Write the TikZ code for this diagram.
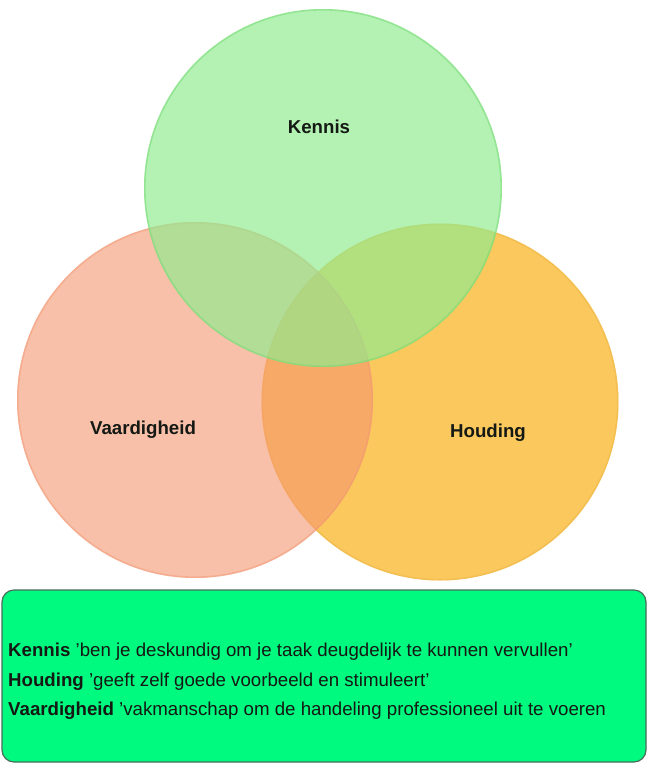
\documentclass[tikz,border=0pt]{standalone}
\usepackage{fontspec}
\setmainfont{Liberation Sans}

% palette
\definecolor{kennisfill}{RGB}{143,236,143}
\definecolor{kennisrim}{RGB}{110,215,110}
\definecolor{vaardfill}{RGB}{246,150,113}
\definecolor{vaardrim}{RGB}{242,150,115}
\definecolor{houdfill}{RGB}{250,200,92}
\definecolor{houdrim}{RGB}{238,182,70}
\definecolor{notefill}{RGB}{0,250,128}
\definecolor{noteedge}{RGB}{70,110,90}
\definecolor{ink}{RGB}{20,25,20}

% straight apostrophe
\newcommand{\apos}{\char"0027\relax}

\begin{document}
\begin{tikzpicture}[x=1pt,y=-1pt,
  rim/.style={line width=1.6pt, draw opacity=0.45},
  setlabel/.style={font=\fontsize{18.67}{22}\selectfont\bfseries, text=ink, inner sep=0pt, anchor=base},
  noteline/.style={font=\fontsize{18.67}{22}\selectfont, text=ink, inner sep=0pt, anchor=base west},
  notebox/.style={fill=notefill, draw=noteedge, line width=1.2pt, rounded corners=12pt}]

\useasboundingbox (0,0) rectangle (652,764);
\fill[white] (0,0) rectangle (652,764);

% Houding (bottom layer)
\fill[houdfill] (440,402) circle (178.5pt);
\draw[houdrim, rim] (440,402) circle (177.7pt);

% Vaardigheid
\fill[vaardfill, fill opacity=0.6] (195,400) circle (178pt);
\draw[vaardrim, rim] (195,400) circle (177.2pt);

% Kennis (top layer)
\fill[kennisfill, fill opacity=0.67] (323,188) circle (179pt);
\draw[kennisrim, rim] (323,188) circle (178.2pt);

% set names
\node[setlabel] (kennis) at (319,133) {Kennis};
\node[setlabel] (vaardigheid) at (143,434) {Vaardigheid};
\node[setlabel] (houding) at (488,437) {Houding};

% explanation box
\draw[notebox] (2,590) rectangle (646,762);
\node[noteline] (kennisnote) at (8,656) {\textbf{Kennis} \apos ben je deskundig om je taak deugdelijk te kunnen vervullen\apos};
\node[noteline] (houdingnote) at (8,686) {\textbf{Houding} \apos geeft zelf goede voorbeeld en stimuleert\apos};
\node[noteline] (vaardnote) at (8,715) {\textbf{Vaardigheid} \apos vakmanschap om de handeling professioneel uit te voeren};
\end{tikzpicture}
\end{document}
